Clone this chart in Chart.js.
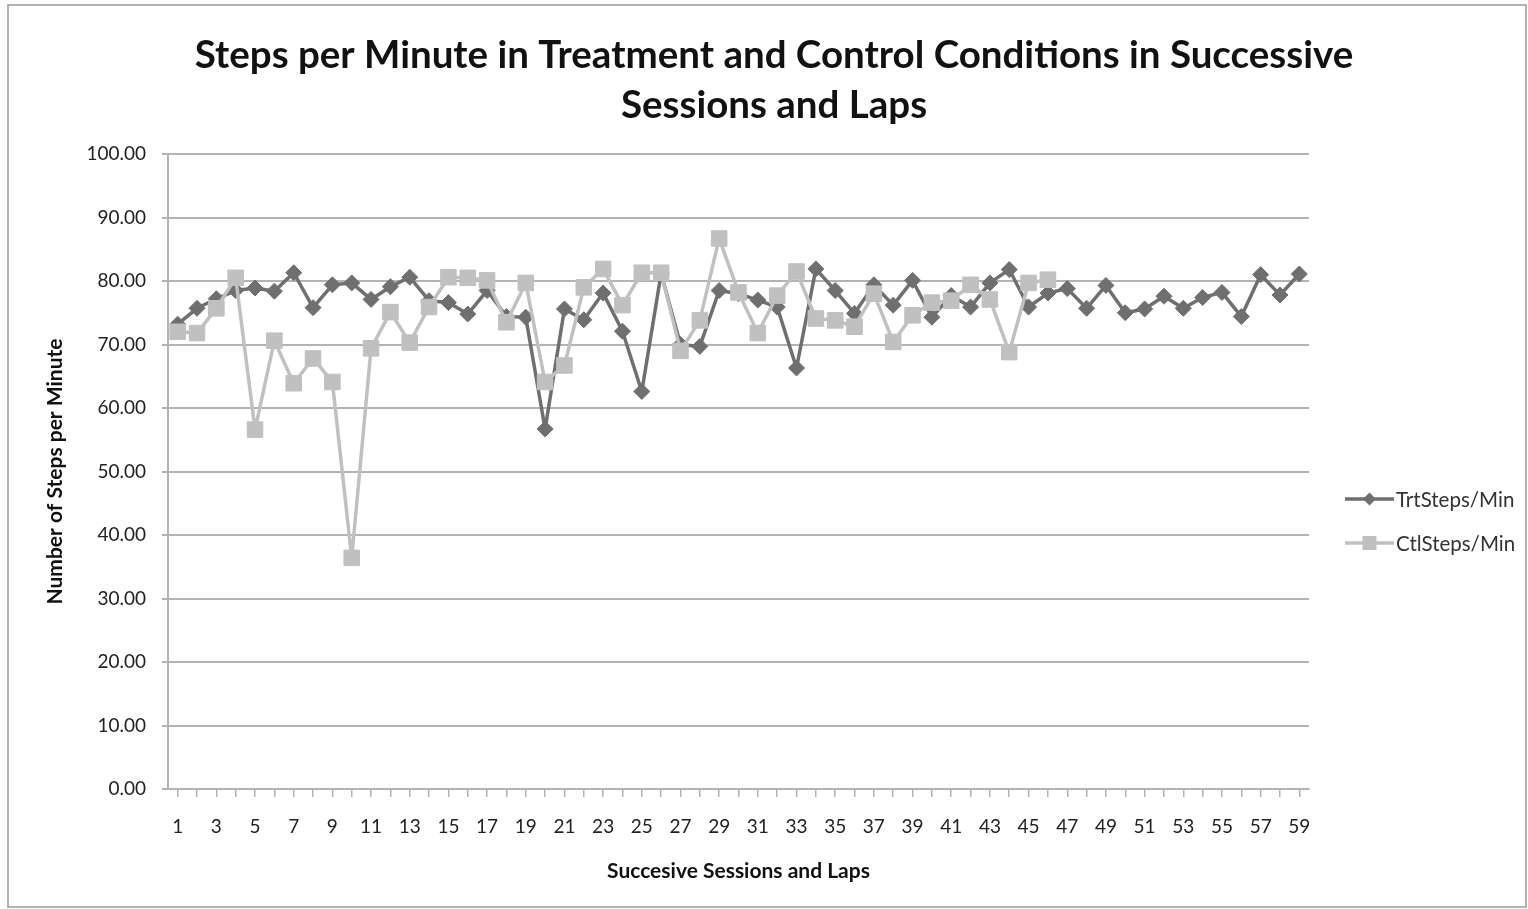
<!DOCTYPE html>
<html>
<head>
<meta charset="utf-8">
<script src="https://cdn.jsdelivr.net/npm/chart.js@4.4.1/dist/chart.umd.min.js"></script>
<style>
  html, body { margin: 0; padding: 0; background: #fff; }
  #wrap { width: 1528px; height: 909px; position: relative; }
</style>
</head>
<body>
<div id="wrap"><canvas id="grafico"></canvas></div>
<script>
// categories: successive sessions and laps 1..59
const laps = ['1','2','3','4','5','6','7','8','9','10','11','12','13','14','15','16','17','18','19','20',
  '21','22','23','24','25','26','27','28','29','30','31','32','33','34','35','36','37','38','39','40',
  '41','42','43','44','45','46','47','48','49','50','51','52','53','54','55','56','57','58','59'];

const trtSteps = [73.2, 75.7, 77.2, 78.5, 78.9, 78.4, 81.3, 75.8, 79.4, 79.7,
  77.1, 79.1, 80.6, 76.9, 76.6, 74.8, 78.5, 74.4, 74.3, 56.7,
  75.6, 73.9, 78.1, 72.1, 62.6, 81.2, 70.0, 69.7, 78.5, 78.0,
  77.0, 75.9, 66.3, 81.9, 78.5, 74.9, 79.4, 76.2, 80.1, 74.3,
  77.7, 75.9, 79.7, 81.8, 75.9, 78.1, 78.8, 75.7, 79.3, 75.0,
  75.6, 77.6, 75.7, 77.4, 78.2, 74.4, 81.0, 77.8, 81.1];

const ctlSteps = [72.0, 71.8, 75.7, 80.5, 56.6, 70.6, 63.9, 67.8, 64.1, 36.4,
  69.4, 75.1, 70.3, 75.9, 80.6, 80.5, 80.1, 73.5, 79.7, 64.1,
  66.7, 79.0, 81.9, 76.2, 81.3, 81.3, 69.0, 73.8, 86.7, 78.2,
  71.8, 77.7, 81.5, 74.1, 73.8, 72.8, 78.0, 70.4, 74.6, 76.6,
  76.9, 79.4, 77.1, 68.8, 79.7, 80.2, null, null, null, null,
  null, null, null, null, null, null, null, null, null];

const yTicks = [0, 10, 20, 30, 40, 50, 60, 70, 80, 90, 100];

const titleLines = ['Steps per Minute in Treatment and Control Conditions in Successive', 'Sessions and Laps'];

const darkGray = '#6f6f6f';
const lightGray = '#c0c0c0';
const gridGray = '#b3b3b3';
const fontFam = 'Lato, "Open Sans", sans-serif';

// frame, title and legend drawn on the canvas
const extras = {
    id: 'extras',
    afterDraw(chart) {
        const c = chart.ctx;
        c.save();
        c.strokeStyle = '#9a9a9a';
        c.lineWidth = 1.5;
        c.strokeRect(8, 5, 1518, 902);

        c.fillStyle = '#111';
        c.font = 'bold 38.5px ' + fontFam;
        c.textAlign = 'center';
        c.textBaseline = 'middle';
        c.fillText(titleLines[0], 774, 56);
        c.fillText(titleLines[1], 774, 106);

        const items = [
            { ds: chart.data.datasets[0], y: 499 },
            { ds: chart.data.datasets[1], y: 543 }
        ];
        items.forEach(function(it) {
            const x0 = 1345, x1 = 1394, xm = (x0 + x1) / 2;
            c.strokeStyle = it.ds.borderColor;
            c.lineWidth = 3.5;
            c.beginPath();
            c.moveTo(x0, it.y);
            c.lineTo(x1, it.y);
            c.stroke();
            c.fillStyle = it.ds.borderColor;
            c.beginPath();
            if (it.ds.pointStyle === 'rectRot') {
                c.moveTo(xm, it.y - 6.5);
                c.lineTo(xm + 6.5, it.y);
                c.lineTo(xm, it.y + 6.5);
                c.lineTo(xm - 6.5, it.y);
            } else {
                c.rect(xm - 7, it.y - 7, 14, 14);
            }
            c.closePath();
            c.fill();
            c.fillStyle = '#333';
            c.font = '20.5px ' + fontFam;
            c.textBaseline = 'middle';
            c.textAlign = 'left';
            c.fillText(it.ds.label, x1 + 2, it.y + 1);
        });
        c.restore();
    }
};

const ctx = document.getElementById('grafico').getContext('2d');
new Chart(ctx, {
    type: 'line',
    data: {
        labels: laps,
        datasets: [{
            label: 'TrtSteps/Min',
            data: trtSteps,
            borderColor: darkGray,
            backgroundColor: darkGray,
            borderWidth: 3.5,
            borderJoinStyle: 'round',
            pointStyle: 'rectRot',
            pointRadius: 8,
            pointBorderWidth: 1,
            tension: 0,
            order: 1
        }, {
            label: 'CtlSteps/Min',
            data: ctlSteps,
            borderColor: lightGray,
            backgroundColor: lightGray,
            borderWidth: 3.5,
            borderJoinStyle: 'round',
            pointStyle: 'rect',
            pointRadius: 11,
            pointBorderWidth: 1,
            tension: 0,
            spanGaps: false,
            order: 0
        }]
    },
    options: {
        responsive: true,
        maintainAspectRatio: false,
        animation: false,
        layout: { padding: { left: 40, right: 219, top: 154, bottom: 20 } },
        plugins: {
            legend: { display: false },
            tooltip: { enabled: false },
            title: { display: false }
        },
        scales: {
            x: {
                offset: true,
                afterFit: function(scale) { scale.height = 100; },
                grid: { drawOnChartArea: false, drawTicks: true, tickLength: 8, color: gridGray, lineWidth: 1.5 },
                border: { color: gridGray, width: 2 },
                ticks: {
                    autoSkip: false,
                    maxRotation: 0,
                    padding: 18,
                    color: '#222',
                    font: { family: fontFam, size: 19 },
                    callback: function(v, i) { return i % 2 === 0 ? laps[i] : ''; }
                },
                title: {
                    display: true,
                    text: 'Succesive Sessions and Laps',
                    color: '#111',
                    font: { family: fontFam, size: 21, weight: 'bold' },
                    padding: { top: 4, bottom: 5 }
                }
            },
            y: {
                min: 0,
                max: 100,
                afterFit: function(scale) { scale.width = 128; },
                afterBuildTicks: function(scale) { scale.ticks = yTicks.map(function(v) { return { value: v }; }); },
                grid: { color: gridGray, lineWidth: 2, drawTicks: true, tickLength: 6 },
                border: { color: gridGray, width: 2 },
                ticks: {
                    padding: 16,
                    color: '#222',
                    font: { family: fontFam, size: 19 },
                    callback: function(v) { return v.toFixed(2); }
                },
                title: {
                    display: true,
                    text: 'Number of Steps per Minute',
                    color: '#111',
                    font: { family: fontFam, size: 21, weight: 'bold' },
                    padding: { top: 3, bottom: 3 }
                }
            }
        }
    },
    plugins: [extras]
});
</script>
</body>
</html>
